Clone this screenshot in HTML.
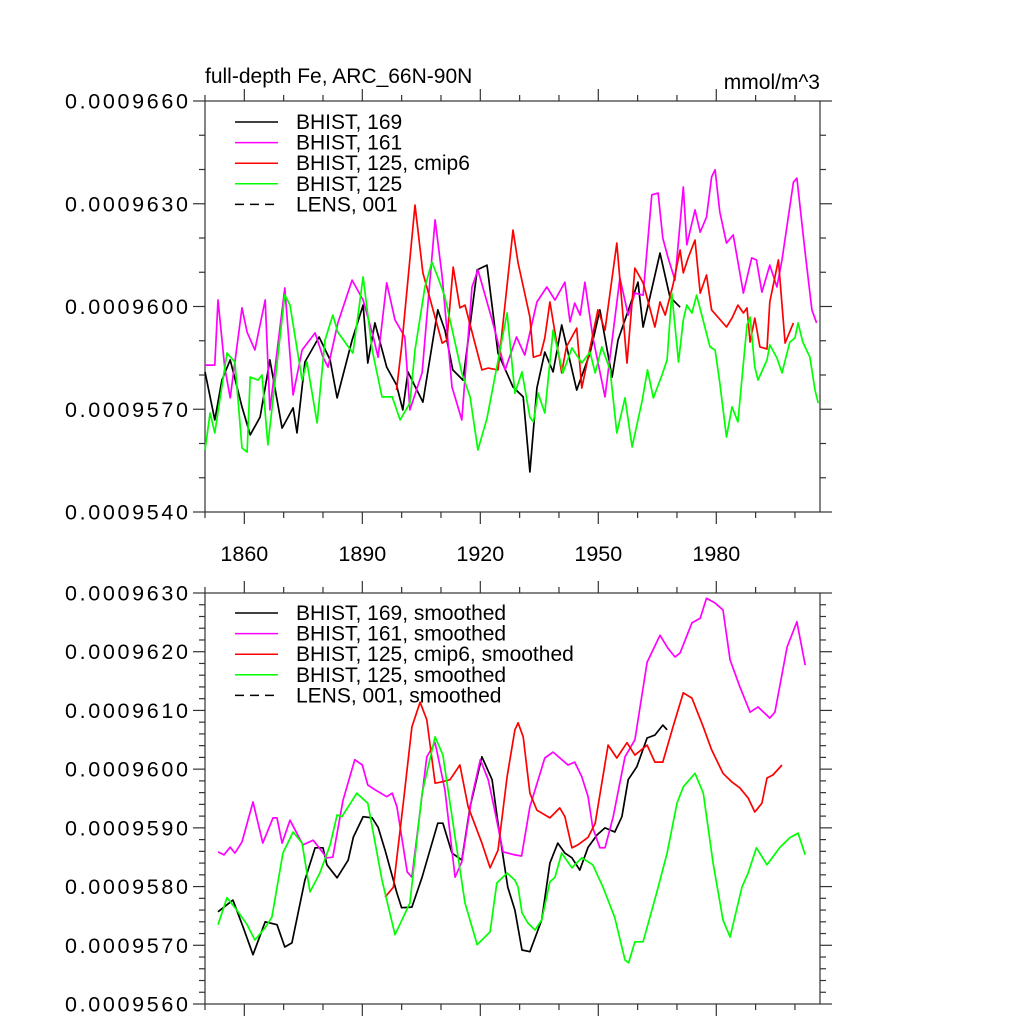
<!DOCTYPE html>
<html><head><meta charset="utf-8"><style>
body{margin:0;background:#fff;}
svg{display:block;font-family:"Liberation Sans",sans-serif;}
</style></head><body>
<svg id="chart" width="1024" height="1024" viewBox="0 0 1024 1024" xmlns="http://www.w3.org/2000/svg">
<rect width="1024" height="1024" fill="#fff"/>
<g id="top"></g>
<g id="bot"></g>
</svg>
<script>
// ---- data (values in units of 1e-7 mmol/m^3) ----
const xTickYears = [1860, 1890, 1920, 1950, 1980];
const topYTicks = [9540, 9570, 9600, 9630, 9660];
const botYTicks = [9560, 9570, 9580, 9590, 9600, 9610, 9620, 9630];

const topBlackYears = [1850,1852.5,1854.3,1856.4,1859.4,1861.5,1864,1866.5,1869.6,1872.4,1873.4,1875.4,1879,1881.8,1883.6,1887.4,1890.2,1891.4,1893.2,1896.2,1898.7,1900.3,1901.6,1905.4,1909.2,1911,1913,1915.6,1919.2,1921.7,1924.5,1928.3,1930.9,1932.6,1934.4,1936.4,1938.5,1940.7,1944.5,1947.9,1950.4,1953.5,1955,1960.1,1961.4,1965.7,1968.2,1970.8];
const topBlackVals = [9580.9,9566.9,9578.5,9584.4,9570.7,9562.5,9567.7,9584.4,9564.5,9570.4,9563.1,9583.8,9591.1,9584.4,9573.3,9590.2,9600.4,9583.5,9595.2,9582.3,9577.1,9569.8,9580.9,9572.1,9599,9593.1,9581.5,9578.5,9610.7,9612.1,9586.4,9576.5,9573.6,9551.7,9576.2,9586.7,9580.9,9594.6,9575.6,9586.4,9599,9579.4,9590.2,9607.1,9594,9615.6,9602.8,9599.8];

const topMagYears = [1850,1852.5,1853.3,1855,1856.4,1859.4,1860.7,1862.7,1865.3,1866.5,1870.3,1872.4,1874.7,1878,1880,1881.3,1883.8,1887.4,1890.2,1892.8,1894,1896.2,1898.3,1900.8,1902.1,1905.2,1908.5,1910.3,1912.8,1915.3,1917.9,1919.4,1923,1926.3,1929.2,1931.3,1934.4,1936.9,1939,1941.5,1942.8,1944,1945.4,1946.6,1948.6,1951.7,1955.5,1957.6,1959.3,1961.4,1963.6,1965.2,1966.4,1967.7,1969.5,1971.6,1972.5,1974.6,1975.9,1977.5,1978.8,1979.7,1980.9,1982.6,1984.3,1986.9,1989,1990.2,1991.6,1993.6,1995.4,1996.7,1999.6,2000.5,2002.6,2004.3,2005.5];
const topMagVals = [9582.9,9582.9,9601.9,9582.3,9573.3,9599.6,9592.5,9587.3,9601.9,9569.8,9605.4,9574.2,9587.3,9592.3,9585.2,9582.3,9595.2,9607.7,9601.9,9591.1,9585.2,9606.9,9596.1,9591.1,9569.8,9580.6,9625.3,9608.6,9576.5,9566.9,9605.7,9610.7,9596.1,9581.5,9591.1,9585.8,9601.3,9605.7,9601.9,9607.1,9595.5,9601,9597.5,9607.1,9591.1,9573.6,9608.3,9597.5,9603.9,9603.3,9632.6,9633.1,9620,9614.4,9607.7,9634.9,9618,9628.2,9621.7,9626.1,9637.8,9639.9,9627.6,9618.5,9620.9,9603.9,9614.2,9613.6,9604.2,9612.1,9605.7,9613.6,9636.3,9637.5,9615.6,9599,9595.2];

const topRedYears = [1898.7,1900,1903.4,1905.4,1910.3,1911.5,1913.1,1914.8,1916.1,1920.4,1922,1924.5,1928.3,1929.6,1932.6,1933.5,1935.3,1936.4,1937.7,1940.7,1941.9,1944.5,1945.8,1949.9,1951.7,1954.7,1957.3,1959.3,1961.4,1964.4,1965.7,1967,1969,1970.8,1971.6,1972.9,1974.6,1975.9,1977.5,1978.8,1982.6,1984,1985.5,1986.9,1987.8,1988.6,1989.8,1991.1,1992.9,1993.6,1995.8,1997.5,1999.6];
const topRedVals = [9575.6,9588.2,9629.6,9609.8,9589.3,9590.2,9611.5,9599.6,9600.4,9581.5,9582,9581.5,9622.3,9612.7,9596.9,9585.2,9585.8,9590.8,9601.3,9580.6,9588.2,9593.7,9576.2,9599,9593.1,9618.5,9583.5,9611.2,9606.9,9594,9601.3,9597.5,9606.3,9616.5,9609.8,9614.4,9619.4,9603.9,9609.2,9599,9594,9596.6,9600.4,9598.1,9599.6,9589.6,9596.6,9588.2,9587.6,9601.3,9613.6,9589.3,9595.2];

const topGreenYears = [1850,1851.3,1852.5,1855.6,1857.6,1859.4,1860.7,1861.5,1863.5,1864.5,1866,1870.3,1871.6,1874.7,1875.9,1878.5,1880.5,1882.5,1883.8,1887.6,1890.2,1892.5,1895,1897.6,1899.6,1902.1,1903.4,1905.9,1907.7,1909.2,1911,1915.3,1917.4,1919.4,1921.7,1924.2,1926.8,1928.8,1930.6,1932.6,1933.5,1934.7,1936.4,1938.5,1941,1943.3,1945.8,1947.9,1949.2,1950.9,1953,1954.7,1956.8,1958.6,1961.2,1962.5,1964,1966.2,1967.5,1968.7,1970.4,1971.6,1972.5,1973.8,1975,1978.4,1979.7,1980.9,1982.6,1984,1985.5,1987.8,1988.6,1989.8,1990.6,1992.9,1993.6,1995.4,1996.7,1998.7,2000,2000.8,2002,2003.8,2005.1,2005.9];
const topGreenVals = [9558.1,9568.9,9563.1,9586.4,9583.8,9558.7,9557.5,9579.4,9578.5,9580,9559.6,9603.4,9600.4,9578.5,9583.8,9566,9590.2,9597.5,9592.5,9586.4,9608.6,9587.3,9573.6,9573.6,9566.9,9571.8,9587.3,9605.7,9613,9608.6,9602.8,9580.6,9573.6,9558.1,9567.4,9582.3,9598.1,9574.7,9580.9,9567.7,9566.3,9574.7,9568.9,9593.1,9580.6,9587.9,9583.5,9586.7,9580.6,9588.2,9581.5,9563.1,9573.3,9559,9572.7,9581.5,9573.3,9580,9584.4,9603.9,9583.8,9596.1,9600.4,9598.1,9603.3,9588.2,9587.3,9577.7,9561.9,9570.7,9566.3,9594.6,9596.9,9582.3,9578.5,9584.4,9588.8,9585,9580.6,9589.6,9590.8,9595.2,9589.6,9585.2,9575.6,9571.8];

const botBlackYears = [1853.3,1857.1,1859.7,1862.2,1865.3,1868.3,1870.3,1872.1,1875.4,1878,1880,1881,1883.6,1886.4,1887.7,1890.2,1892.5,1894,1895.8,1898.8,1900,1902.6,1905.2,1909.2,1910.5,1912.8,1915.3,1917.4,1920.4,1923,1924.5,1927,1928.8,1930.6,1932.6,1935.6,1937.7,1939.7,1941.5,1943.3,1945.3,1947.4,1949.7,1951.7,1954.2,1956,1957.6,1959.8,1962.4,1964.4,1966.4,1967.5];
const botBlackVals = [9575.7,9577.7,9573.1,9568.4,9574,9573.5,9569.7,9570.4,9581.1,9586.6,9586.6,9583.7,9581.5,9584.5,9588.4,9591.9,9591.7,9590.1,9586.2,9578.9,9576.4,9576.5,9581.6,9590.8,9590.8,9585.7,9584.5,9593.6,9602.1,9598.2,9590.8,9579.9,9576,9569.2,9568.9,9574.3,9584,9587.4,9585.7,9584.9,9582.8,9586.7,9588.8,9590,9589.3,9591.9,9598.2,9600.4,9605.3,9605.8,9607.5,9606.7];

const botMagYears = [1853.3,1854.8,1856.4,1857.6,1859.4,1862.2,1864.7,1867.3,1868.3,1869.6,1871.6,1874.9,1877.5,1881,1882.5,1885.1,1888.1,1890,1891.4,1893.2,1896.2,1897.6,1898.8,1901.4,1902.6,1906.4,1908.5,1911,1913.6,1915.3,1917.9,1920,1922,1923.8,1925.8,1928.8,1930.5,1932.6,1936.4,1938.5,1942.3,1944,1945.8,1947.4,1948.6,1950.4,1951.7,1953.8,1956.8,1959.3,1962.4,1965.7,1967.7,1969.5,1970.8,1973.8,1975.9,1977.5,1979.7,1981.7,1983.5,1986,1988.6,1990.6,1993.6,1994.9,1998,2000.5,2002.6];
const botMagVals = [9585.9,9585.4,9586.7,9585.7,9587.6,9594.4,9587.4,9591.7,9591.7,9587.4,9591.3,9587.1,9587.9,9584.9,9585,9594.7,9601.6,9600.7,9597.3,9596.5,9595.3,9595.9,9593.6,9582.5,9581.6,9602.1,9604.5,9596.5,9581.6,9584.2,9595.3,9601.6,9598.2,9592.5,9585.9,9585.4,9585.2,9593.6,9601.9,9602.9,9600.7,9601.2,9598.7,9595.3,9590,9586.6,9586.6,9591.9,9602.1,9605,9618.2,9622.8,9620.6,9619.1,9619.8,9624.9,9625.7,9629.1,9628.3,9627.1,9618.6,9614,9609.7,9610.6,9608.7,9609.7,9620.8,9625.1,9617.7];

const botRedYears = [1895.8,1897.9,1900.5,1902.6,1904.7,1906.4,1908.5,1910,1912.3,1914.8,1916.9,1920.4,1922.5,1924.5,1926.8,1928.8,1929.6,1930.9,1932.6,1934.4,1937.7,1940.2,1941.5,1943.3,1944.8,1947.4,1949.2,1952.5,1954.7,1957.3,1959.3,1962.4,1964.4,1966.4,1969,1971.6,1973.8,1976.7,1978.8,1981.7,1984,1986,1988.1,1989.8,1991.6,1992.9,1994.4,1996.7];
const botRedVals = [9578.2,9579.9,9594.7,9607.2,9611.4,9608.4,9597.6,9597.8,9598.2,9600.7,9593.6,9587.4,9583.2,9586.2,9598.7,9606.7,9607.9,9605.5,9595.9,9593,9591.7,9593.4,9591.9,9586.6,9587.1,9588.4,9590.8,9604.1,9601.9,9604.5,9602.4,9604.1,9601.2,9601.2,9607.2,9613,9612.1,9607.2,9603.3,9599.3,9597.8,9596.8,9595.1,9592.7,9594.2,9598.5,9599,9600.7];

const botGreenYears = [1853.3,1855.6,1858.1,1860.7,1862.7,1865.3,1867,1869.8,1872.4,1874.7,1876.7,1879.2,1881.8,1883.6,1884.8,1888.6,1891.4,1895,1898.3,1902.1,1905.2,1908.5,1910.5,1913.6,1916.1,1919.2,1922.5,1924.2,1926.8,1928.8,1929.6,1930.6,1932.1,1933.9,1935.6,1937.7,1939,1940.7,1943.3,1945.8,1948.6,1951.2,1954.2,1956.8,1957.7,1959.3,1961.4,1964.9,1967.5,1970,1971.6,1974.6,1976.7,1979.2,1981.7,1983.5,1986.5,1988.1,1990.2,1992.9,1996.2,1998.7,2000.8,2002.6];
const botGreenVals = [9573.5,9578.1,9576,9573.5,9570.9,9573,9574.8,9585.7,9589.3,9587.4,9579.1,9582.3,9587.1,9592.2,9591.9,9595.9,9594.2,9581.1,9571.8,9577.2,9595.9,9605.5,9602.4,9588.4,9577.2,9570.1,9572.3,9580.6,9582.3,9581.1,9579.9,9575.5,9573.8,9572.6,9574.3,9580.8,9581.6,9585.7,9583.2,9584.9,9583.7,9579.9,9574.7,9567.5,9567,9570.6,9570.6,9579.1,9585.7,9594.2,9597,9599.3,9595.9,9584,9574.3,9571.4,9579.9,9582.3,9586.6,9583.7,9586.7,9588.3,9589.1,9585.4];

const topLegendLabels = ["BHIST, 169","BHIST, 161","BHIST, 125, cmip6","BHIST, 125","LENS, 001"];
const botLegendLabels = ["BHIST, 169, smoothed","BHIST, 161, smoothed","BHIST, 125, cmip6, smoothed","BHIST, 125, smoothed","LENS, 001, smoothed"];

// ---- drawing ----
const NS = "http://www.w3.org/2000/svg";
const COLORS = ["#000000","#ff00ff","#ff0000","#00ff00"];
const X0 = 205, X1 = 820, YMIN = 1850, YMAX = 2006.37;
function xs(yr){ return X0 + (yr - YMIN) / (YMAX - YMIN) * (X1 - X0); }
function mk(tag, attrs, parent){
  const e = document.createElementNS(NS, tag);
  for (const k in attrs) e.setAttribute(k, attrs[k]);
  parent.appendChild(e); return e;
}
function fmt(v){ return (v * 1e-7).toFixed(7); }

function panel(g, top, bot, vmin, vmax, yTicks, minorStep, showXLabels, series, legend, legTop){
  const ys = v => bot - (v - vmin) / (vmax - vmin) * (bot - top);
  const stroke = "#333";
  const fr = mk("rect", {x:X0, y:top, width:X1-X0, height:bot-top, fill:"none", stroke:stroke, "stroke-width":1.2}, g);
  
  
  for (let yr = 1850; yr <= 2006; yr += 10){
    const major = ((yr - 1860) % 30 === 0);
    const L = major ? 12 : 6, x = xs(yr);
    const t1 = mk("line", {x1:x, x2:x, y1:bot, y2:bot+L, stroke:stroke, "stroke-width":1.2}, g);
    
    
    const t2 = mk("line", {x1:x, x2:x, y1:top, y2:top-L, stroke:stroke, "stroke-width":1.2}, g);
    
    
  }
  if (showXLabels){
    xTickYears.forEach(yr => {
      const t = mk("text", {x:xs(yr), y:bot+49, "text-anchor":"middle", "font-size":21.5, fill:"#000"}, g);
      t.textContent = yr;
      
      
    });
  }
  for (let v = vmin; v <= vmax + 1e-6; v += minorStep){
    const major = yTicks.some(t => Math.abs(t - v) < 1e-6);
    const L = major ? 12 : 6, y = ys(v);
    const a = mk("line", {x1:X0, x2:X0-L, y1:y, y2:y, stroke:stroke, "stroke-width":1.2}, g);
    
    
    const b = mk("line", {x1:X1, x2:X1+L, y1:y, y2:y, stroke:stroke, "stroke-width":1.2}, g);
    
    
  }
  yTicks.forEach(v => {
    const t = mk("text", {x:65, y:ys(v)+7.5, "font-size":21.5, textLength:123, lengthAdjust:"spacing", fill:"#000"}, g);
    t.textContent = fmt(v);
    
    
  });
  series.forEach((s, i) => {
    const pts = s[0].map((yr, k) => xs(yr).toFixed(1) + "," + ys(s[1][k]).toFixed(1)).join(" ");
    const p = mk("polyline", {points:pts, fill:"none", stroke:COLORS[i], "stroke-width":1.7, "stroke-linejoin":"round"}, g);
    
    
  });
  legend.forEach((lab, i) => {
    const y = legTop + i * 20.6;
    const ln = mk("line", {x1:235, x2:278, y1:y, y2:y, stroke: i < 4 ? COLORS[i] : "#000", "stroke-width":1.5}, g);
    if (i === 4) ln.setAttribute("stroke-dasharray", "9,6");
    
    
    const t = mk("text", {x:296, y:y+7, "font-size":21, fill:"#000"}, g);
    t.textContent = lab;
    
    
  });
}

const gTop = document.getElementById("top");
const gBot = document.getElementById("bot");
panel(gTop, 101, 512, 9540, 9660, topYTicks, 10, true,
  [[topBlackYears, topBlackVals],[topMagYears, topMagVals],[topRedYears, topRedVals],[topGreenYears, topGreenVals]],
  topLegendLabels, 122);
panel(gBot, 593, 1004, 9560, 9630, botYTicks, 2, false,
  [[botBlackYears, botBlackVals],[botMagYears, botMagVals],[botRedYears, botRedVals],[botGreenYears, botGreenVals]],
  botLegendLabels, 613);

const title = mk("text", {x:205, y:83, "font-size":21, fill:"#000"}, gTop);
title.textContent = "full-depth Fe, ARC_66N-90N";


const units = mk("text", {x:820, y:89, "font-size":21, "text-anchor":"end", fill:"#000"}, gTop);
units.textContent = "mmol/m^3";


</script>
</body></html>
